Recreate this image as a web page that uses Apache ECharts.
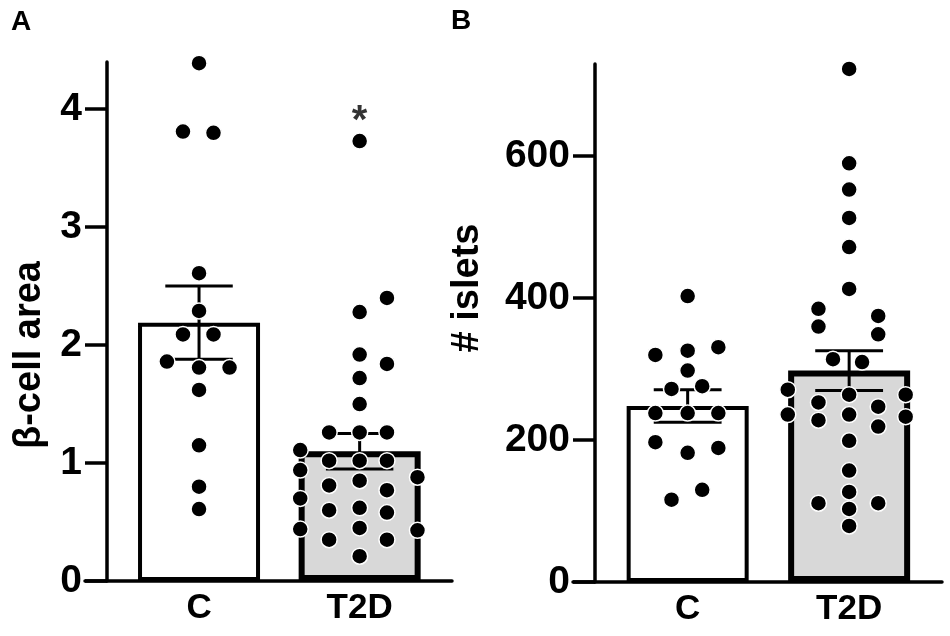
<!DOCTYPE html>
<html>
<head>
<meta charset="utf-8">
<script src="https://cdn.jsdelivr.net/npm/echarts@6/dist/echarts.min.js"></script>
<style>
  html, body { margin: 0; padding: 0; background: #fff; }
  #main { width: 950px; height: 636px; }
</style>
</head>
<body>
<div id="main"></div>
<script>
var cats = ['C', 'T2D'];

// A: beta-cell area
var aMean = [2.19, 1.10];
var aSem = [0.31, 0.15];
var aCtrl = [4.39, 3.81, 3.80, 2.61, 2.29, 2.09, 2.09, 1.86, 1.81, 1.81, 1.62, 1.15, 0.80, 0.61];
var aCtrlDx = [0, -0.10, 0.09, 0, 0, -0.10, 0.09, -0.20, 0, 0.19, 0, 0, 0, 0];
var aT2d = [3.73, 2.40, 2.28, 1.92, 1.84, 1.72, 1.50, 1.26, 1.26, 1.26, 1.11, 1.02, 1.02, 1.02,
            0.94, 0.88, 0.85, 0.81, 0.77, 0.70, 0.62, 0.60, 0.58, 0.45, 0.44, 0.43, 0.35, 0.35, 0.21];
var aT2dDx = [0, 0.17, 0, 0, 0.17, 0, 0, -0.19, 0, 0.17, -0.37, -0.19, 0, 0.17,
              -0.37, 0.36, 0, -0.19, 0.17, -0.37, 0, -0.19, 0.17, 0, -0.37, 0.36, -0.19, 0.17, 0];
var aTicks = [0, 1, 2, 3, 4];
var aStar = 3.89;

// B: number of islets
var bMean = [248, 298];
var bSem = [23, 28];
var bCtrl = [403, 331, 326, 320, 298, 276, 272, 238, 238, 238, 197, 189, 182, 130, 116];
var bCtrlDx = [0, 0.19, 0, -0.20, 0, 0.09, -0.10, -0.20, 0, 0.19, -0.20, 0.19, 0, 0.09, -0.10];
var bT2d = [723, 590, 553, 513, 472, 413, 385, 375, 360, 349, 314, 310, 271, 264, 264,
            253, 247, 236, 236, 233, 228, 219, 199, 157, 127, 111, 111, 103, 79];
var bT2dDx = [0, 0, 0, 0, 0, 0, -0.19, 0.18, -0.19, 0.18, -0.10, 0.08, -0.38, 0, 0.35,
              -0.19, 0.18, -0.38, 0, 0.35, -0.19, 0.18, 0, 0, 0, -0.19, 0.18, 0, 0];
var bTicks = [0, 200, 400, 600];

var FONT = 'Liberation Sans, Arial, sans-serif';
var myChart = echarts.init(document.getElementById('main'));

// points of one group, shifted sideways like the beeswarm
function dots(vals, dx, pos) {
    var out = [];
    for (var i = 0; i < vals.length; i++) {
        out.push([pos + dx[i], vals[i]]);
    }
    return out;
}

// mean +- sem whiskers
function renderErr(params, api) {
    var x = api.value(0), m = api.value(1), s = api.value(2);
    var top = api.coord([x, m + s]);
    var bot = api.coord([x, m - s]);
    var half = api.size([0.42, 0])[0] / 2;
    var st = { stroke: '#000', lineWidth: 3 };
    return {
        type: 'group',
        children: [
            { type: 'line', shape: { x1: top[0], y1: top[1], x2: bot[0], y2: bot[1] }, style: st },
            { type: 'line', shape: { x1: top[0] - half, y1: top[1], x2: top[0] + half, y2: top[1] }, style: st },
            { type: 'line', shape: { x1: bot[0] - half, y1: bot[1], x2: bot[0] + half, y2: bot[1] }, style: st }
        ]
    };
}

function xAxisFor(idx) {
    return {
        type: 'value', gridIndex: idx, min: 0.29, max: 2.575,
        axisLine: { lineStyle: { color: '#000', width: 3.5 } },
        axisTick: { show: false },
        splitLine: { show: false },
        axisLabel: {
            customValues: [1, 2],
            formatter: function (v) { return cats[Math.round(v) - 1]; },
            color: '#000', fontSize: 35, fontWeight: 'bold', fontFamily: FONT, margin: 10
        }
    };
}

function yAxisFor(idx, max, ticks) {
    return {
        type: 'value', gridIndex: idx, min: 0, max: max, offset: -22,
        axisLine: { show: true, lineStyle: { color: '#000', width: 3.5 } },
        axisTick: { show: true, customValues: ticks, length: 22, lineStyle: { color: '#000', width: 3.5 } },
        splitLine: { show: false },
        axisLabel: {
            customValues: ticks,
            color: '#000', fontSize: 39, fontWeight: 'bold', fontFamily: FONT, margin: 25
        }
    };
}

function barSeries(idx, mean) {
    return {
        type: 'bar', xAxisIndex: idx, yAxisIndex: idx, barWidth: 122, z: 2,
        data: [
            { value: [1, mean[0]], itemStyle: { color: '#fff', borderColor: '#000', borderWidth: 4 } },
            { value: [2, mean[1]], itemStyle: { color: '#d8d8d8', borderColor: '#000', borderWidth: 6 } }
        ]
    };
}

function errSeries(idx, mean, sem) {
    return {
        type: 'custom', xAxisIndex: idx, yAxisIndex: idx, z: 3,
        renderItem: renderErr,
        encode: { x: 0, y: 1 },
        data: [[1, mean[0], sem[0]], [2, mean[1], sem[1]]]
    };
}

function dotSeries(idx, data) {
    return {
        type: 'scatter', xAxisIndex: idx, yAxisIndex: idx, z: 4,
        symbolSize: 16,
        itemStyle: { color: '#000', borderColor: '#fff', borderWidth: 1.5, opacity: 1 },
        data: data
    };
}

myChart.setOption({
    backgroundColor: '#fff',
    animation: false,
    grid: [
        { left: 85, top: 62, width: 367, height: 519 },
        { left: 573, top: 64, width: 369, height: 518 }
    ],
    xAxis: [xAxisFor(0), xAxisFor(1)],
    yAxis: [yAxisFor(0, 4.4, aTicks), yAxisFor(1, 730, bTicks)],
    series: [
        barSeries(0, aMean),
        errSeries(0, aMean, aSem),
        dotSeries(0, dots(aCtrl, aCtrlDx, 1).concat(dots(aT2d, aT2dDx, 2))),
        {
            type: 'scatter', xAxisIndex: 0, yAxisIndex: 0, z: 5,
            symbolSize: 1, itemStyle: { color: 'rgba(0,0,0,0)' },
            label: { show: true, position: 'inside', formatter: '*', color: '#000',
                     fontSize: 40, fontWeight: 'bold', fontFamily: FONT },
            data: [[2, aStar]]
        },
        barSeries(1, bMean),
        errSeries(1, bMean, bSem),
        dotSeries(1, dots(bCtrl, bCtrlDx, 1).concat(dots(bT2d, bT2dDx, 2)))
    ],
    graphic: [
        { type: 'text', x: 11, y: 8, style: { text: 'A', font: 'bold 28px ' + FONT, fill: '#000' } },
        { type: 'text', x: 451, y: 7, style: { text: 'B', font: 'bold 28px ' + FONT, fill: '#000' } },
        { type: 'text', x: 30, y: 355, rotation: Math.PI / 2,
          style: { text: 'β-cell area', font: 'bold 38px ' + FONT, fill: '#000', align: 'center', verticalAlign: 'middle' } },
        { type: 'text', x: 468, y: 288, rotation: Math.PI / 2,
          style: { text: '# islets', font: 'bold 38px ' + FONT, fill: '#000', align: 'center', verticalAlign: 'middle' } }
    ]
});
</script>
</body>
</html>
